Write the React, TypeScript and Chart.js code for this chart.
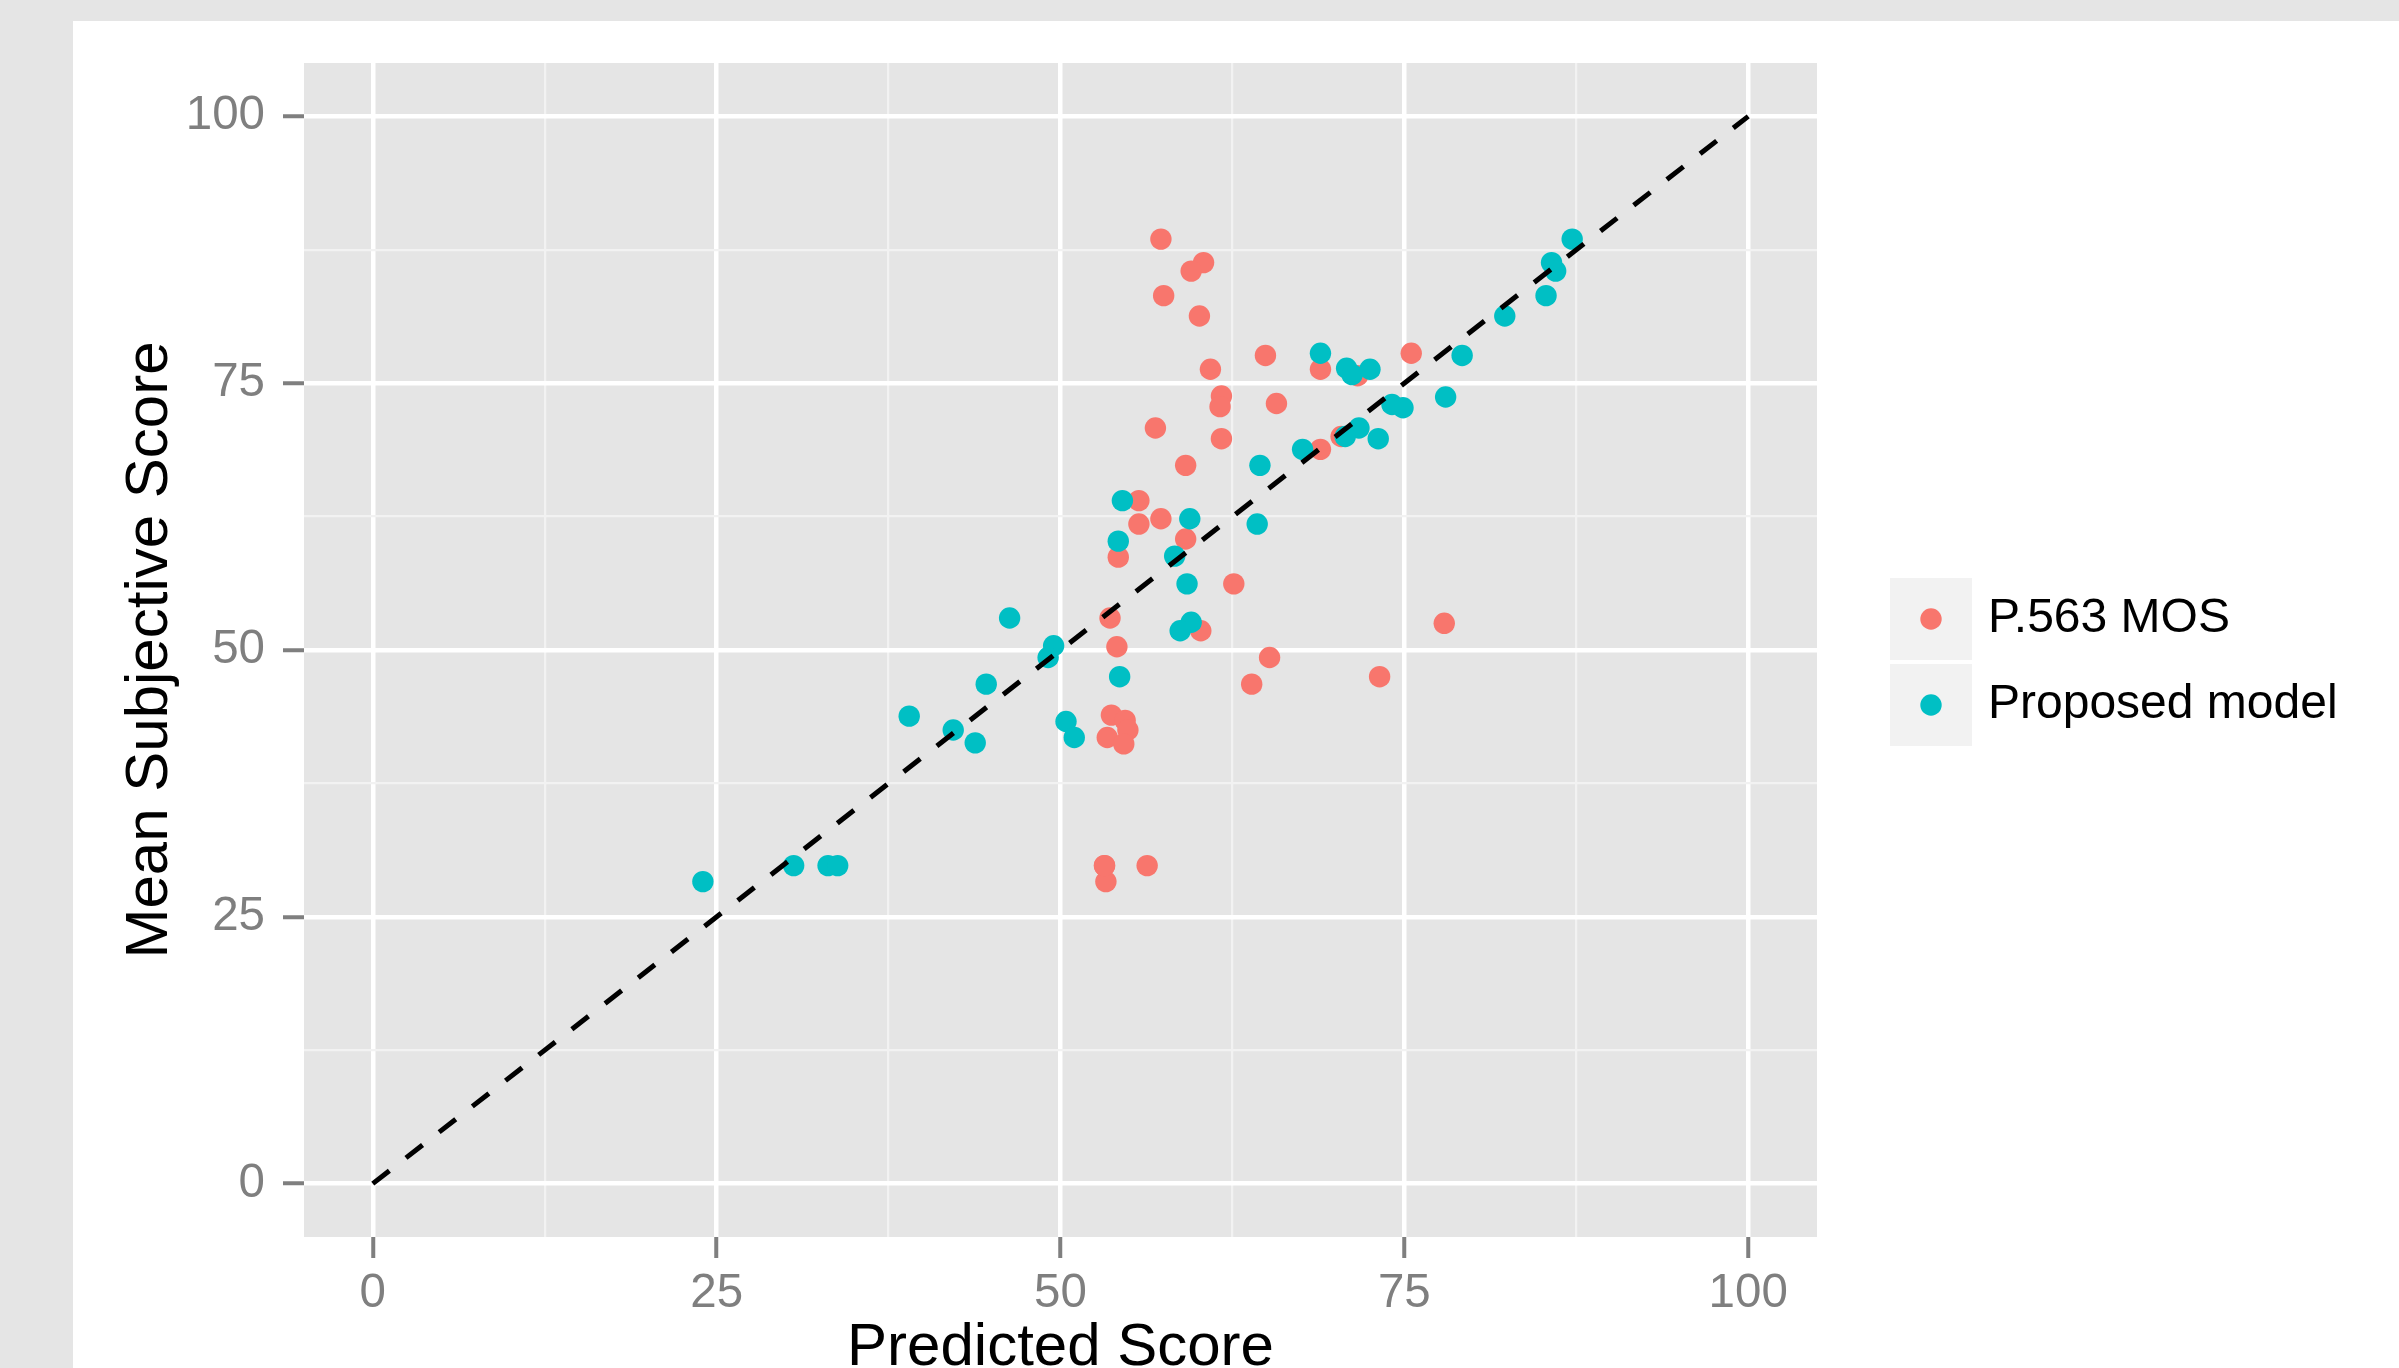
import { useEffect, useRef } from 'react';
import { Chart, registerables } from 'chart.js';

Chart.register(...registerables);

// ---- data ----
const p563X = [57.3, 60.4, 59.5, 57.5, 60.1, 60.9, 64.9, 68.9, 75.5, 71.6, 61.7, 61.6, 65.7, 56.9, 61.7, 68.9, 70.4, 59.1, 55.7, 55.7, 57.3, 59.1, 54.2, 62.6, 53.6, 77.9, 60.2, 54.1, 65.2, 73.2, 63.9, 53.7, 54.7, 54.9, 53.4, 54.6, 53.2, 53.3, 56.3, 53.2];
const p563Y = [88.5, 86.3, 85.5, 83.2, 81.3, 76.3, 77.6, 76.3, 77.8, 75.7, 73.8, 72.8, 73.1, 70.8, 69.8, 68.8, 70.0, 67.3, 64.0, 61.8, 62.3, 60.4, 58.7, 56.2, 53.0, 52.5, 51.8, 50.3, 49.3, 47.5, 46.8, 43.9, 43.4, 42.5, 41.8, 41.2, 29.8, 28.3, 29.8, 29.8];

const proposedX = [87.2, 85.7, 86.0, 85.3, 82.3, 68.9, 79.2, 70.8, 71.2, 72.5, 78.0, 74.1, 74.9, 71.7, 70.7, 73.1, 67.6, 64.5, 54.5, 59.4, 64.3, 54.2, 58.3, 59.2, 46.3, 59.5, 58.7, 49.5, 49.1, 54.3, 44.6, 39.0, 50.4, 51.0, 42.2, 43.8, 30.6, 33.1, 33.8, 24.0];
const proposedY = [88.5, 86.3, 85.5, 83.2, 81.3, 77.8, 77.6, 76.4, 75.8, 76.3, 73.7, 73.0, 72.7, 70.8, 70.0, 69.8, 68.8, 67.3, 64.0, 62.3, 61.8, 60.2, 58.8, 56.2, 53.0, 52.6, 51.8, 50.4, 49.3, 47.5, 46.8, 43.8, 43.3, 41.8, 42.5, 41.3, 29.8, 29.8, 29.8, 28.3];

const refLineX = [0, 100];
const refLineY = [0, 100];

const majorTicks = [0, 25, 50, 75, 100];
const minorTicks = [12.5, 37.5, 62.5, 87.5];
const tickLabels = ['0', '25', '50', '75', '100'];

const seriesNames = ['P.563 MOS', 'Proposed model'];
const seriesColors = ['#F8766D', '#00BFC4'];

const xTitle = 'Predicted Score';
const yTitle = 'Mean Subjective Score';

const FONT = '"Liberation Sans", Arial, Helvetica, sans-serif';

const toPoints = (xs: number[], ys: number[]) => xs.map((x, i) => ({ x, y: ys[i] }));

const isMajor = (v: any) => majorTicks.includes(v);

const gridOpts = {
  color: (c: any) => (isMajor(c.tick?.value) ? '#FFFFFF' : '#F2F2F2'),
  lineWidth: (c: any) => (isMajor(c.tick?.value) ? 4.5 : 2.2),
  tickColor: (c: any) => (isMajor(c.tick?.value) ? '#7F7F7F' : 'rgba(0,0,0,0)'),
  tickWidth: 4,
  tickLength: 21,
  drawTicks: true,
};

const buildTicks = (axis: any) => {
  axis.ticks = [...majorTicks, ...minorTicks]
    .sort((a, b) => a - b)
    .map((v) => ({ value: v }));
};

const tickCallback = (value: any) => {
  const i = majorTicks.indexOf(Number(value));
  return i >= 0 ? tickLabels[i] : '';
};

const bgPlugin = {
  id: 'ggBackground',
  beforeDraw(chart: any) {
    const { ctx, chartArea: a, width, height } = chart;
    ctx.save();
    ctx.fillStyle = '#E5E5E5';
    ctx.fillRect(0, 0, width, height);
    ctx.fillStyle = '#FFFFFF';
    ctx.fillRect(73, 21, width - 73, height - 21);
    ctx.fillStyle = '#E5E5E5';
    ctx.fillRect(a.left, a.top, a.right - a.left, a.bottom - a.top);
    ctx.restore();
  },
};

const legendPlugin = {
  id: 'ggLegend',
  afterDraw(chart: any) {
    const { ctx } = chart;
    const keyX = 1890;
    const keyW = 82;
    const keyTops = [578, 664];
    const keyH = 82;
    ctx.save();
    seriesNames.forEach((name, i) => {
      const top = keyTops[i];
      ctx.fillStyle = '#F2F2F2';
      ctx.fillRect(keyX, top, keyW, keyH);
      ctx.beginPath();
      ctx.fillStyle = seriesColors[i];
      ctx.arc(keyX + keyW / 2, top + keyH / 2, 10.7, 0, Math.PI * 2);
      ctx.fill();
      ctx.fillStyle = '#000000';
      ctx.font = `48px ${FONT}`;
      ctx.textBaseline = 'middle';
      ctx.textAlign = 'left';
      ctx.fillText(name, 1988, top + keyH / 2);
    });
    ctx.restore();
  },
};

export default function App() {
  const ref = useRef<HTMLCanvasElement>(null);

  useEffect(() => {
    if (!ref.current) return;
    const chart = new Chart(ref.current, {
      type: 'scatter',
      data: {
        datasets: [
          {
            label: 'reference',
            data: toPoints(refLineX, refLineY),
            showLine: true,
            borderColor: '#000000',
            borderWidth: 5,
            borderDash: [21, 21],
            borderCapStyle: 'butt',
            pointRadius: 0,
            pointHoverRadius: 0,
            order: 0,
          } as any,
          {
            label: seriesNames[1],
            data: toPoints(proposedX, proposedY),
            backgroundColor: seriesColors[1],
            borderWidth: 0,
            pointRadius: 10.7,
            pointHoverRadius: 10.7,
            order: 1,
          },
          {
            label: seriesNames[0],
            data: toPoints(p563X, p563Y),
            backgroundColor: seriesColors[0],
            borderWidth: 0,
            pointRadius: 10.7,
            pointHoverRadius: 10.7,
            order: 2,
          },
        ],
      },
      options: {
        animation: false,
        responsive: false,
        devicePixelRatio: 1,
        events: [],
        layout: { padding: { left: 0, top: 63, right: 582, bottom: 0 } },
        plugins: {
          legend: { display: false },
          tooltip: { enabled: false },
        },
        scales: {
          x: {
            type: 'linear',
            position: 'bottom',
            min: -5,
            max: 105,
            afterBuildTicks: buildTicks,
            afterFit: (axis: any) => {
              axis.height = 131;
            },
            grid: gridOpts as any,
            border: { display: false },
            ticks: {
              autoSkip: false,
              maxRotation: 0,
              padding: 7,
              color: '#7F7F7F',
              font: { family: FONT, size: 47.5, lineHeight: 1.2 },
              callback: tickCallback,
            },
            title: {
              display: true,
              text: xTitle,
              color: '#000000',
              font: { family: FONT, size: 60, lineHeight: 1.2 },
              padding: { top: 0, bottom: -16.7 },
            },
          },
          y: {
            type: 'linear',
            position: 'left',
            min: -5,
            max: 105,
            afterBuildTicks: buildTicks,
            afterFit: (axis: any) => {
              axis.width = 304;
            },
            grid: gridOpts as any,
            border: { display: false },
            ticks: {
              autoSkip: false,
              padding: 18,
              color: '#7F7F7F',
              font: { family: FONT, size: 47.5, lineHeight: 1.2 },
              callback: tickCallback,
            },
            title: {
              display: true,
              text: yTitle,
              color: '#000000',
              font: { family: FONT, size: 60, lineHeight: 1.2 },
              padding: { top: 114, bottom: 0 },
            },
          },
        },
      },
      plugins: [bgPlugin, legendPlugin],
    });
    return () => chart.destroy();
  }, []);

  return (
    <canvas
      ref={ref}
      width={2399}
      height={1368}
      style={{ position: 'fixed', left: 0, top: 0, width: '2399px', height: '1368px', display: 'block' }}
    />
  );
}
